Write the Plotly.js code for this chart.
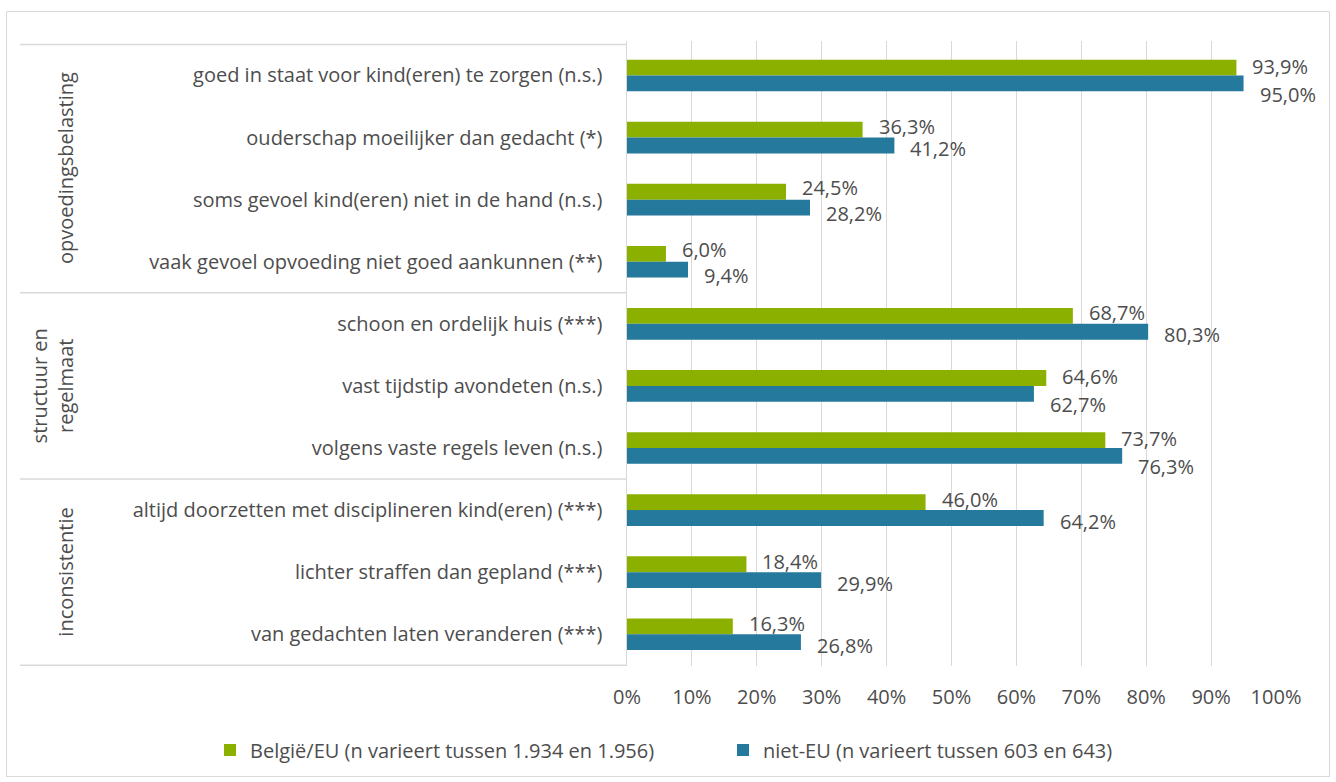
<!DOCTYPE html>
<html>
<head>
<meta charset="utf-8">
<script src="https://cdn.plot.ly/plotly-3.0.1.min.js"></script>
<style>
  html, body { margin: 0; padding: 0; background: #ffffff; }
  #chart { width: 1336px; height: 782px; }
</style>
</head>
<body>
<div id="chart"></div>
<script>
// ---- data ----
const categories = [
  "goed in staat voor kind(eren) te zorgen (n.s.)",
  "ouderschap moeilijker dan gedacht (*)",
  "soms gevoel kind(eren) niet in de hand (n.s.)",
  "vaak gevoel opvoeding niet goed aankunnen (**)",
  "schoon en ordelijk huis (***)",
  "vast tijdstip avondeten (n.s.)",
  "volgens vaste regels leven (n.s.)",
  "altijd doorzetten met disciplineren kind(eren) (***)",
  "lichter straffen dan gepland (***)",
  "van gedachten laten veranderen (***)"
];
const groupNames = ["opvoedingsbelasting", "structuur en<br>regelmaat", "inconsistentie"];
const groupSizes = [4, 3, 3];
const seriesNames = [
  "België/EU (n varieert tussen 1.934 en 1.956)",
  "niet-EU (n varieert tussen 603 en 643)"
];
const belgieEU = [93.9, 36.3, 24.5, 6.0, 68.7, 64.6, 73.7, 46.0, 18.4, 16.3];
const nietEU   = [95.0, 41.2, 28.2, 9.4, 80.3, 62.7, 76.3, 64.2, 29.9, 26.8];
const xTickVals = [0, 10, 20, 30, 40, 50, 60, 70, 80, 90, 100];
const xTickText = ["0%", "10%", "20%", "30%", "40%", "50%", "60%", "70%", "80%", "90%", "100%"];

// ---- style ----
const GREEN = "#8CB000";
const BLUE = "#24799C";
const TEXT = "#4D4D4D";
const GRID = "#D9D9D9";
const FONT = "'Open Sans', Lato, sans-serif";
const FS = 20;

const W = 1336, H = 782;
const M = { l: 627, r: 60, t: 41, b: 116, autoexpand: false };
const pw = W - M.l - M.r, ph = H - M.t - M.b;
const px2x = p => (p - M.l) / pw;
const py2y = p => (H - M.b - p) / ph;

const fmt = v => v.toFixed(1).replace(".", ",") + "%";

const traces = [
  {
    type: "bar", orientation: "h", name: seriesNames[0],
    y: categories, x: belgieEU,
    marker: { color: GREEN },
    hoverinfo: "skip"
  },
  {
    type: "bar", orientation: "h", name: seriesNames[1],
    y: categories, x: nietEU,
    marker: { color: BLUE },
    hoverinfo: "skip"
  }
];

const annotations = [];
// bar value labels (pushed apart when the two labels of a row would collide)
const barHalf = ph / categories.length * (1 - 0.49) / 4;
categories.forEach((c, i) => {
  const d = Math.abs(belgieEU[i] - nietEU[i]);
  let up = 3, down = 3;
  if (d < 3) { up = 1; down = 11; }
  else if (d < 4.5) { up = 4; down = 6; }
  annotations.push({
    x: belgieEU[i], y: c, xref: "x", yref: "y",
    text: fmt(belgieEU[i]), showarrow: false,
    xanchor: "left", yanchor: "middle", xshift: 14,
    yshift: barHalf + up,
    font: { family: FONT, size: FS, color: TEXT }
  });
  annotations.push({
    x: nietEU[i], y: c, xref: "x", yref: "y",
    text: fmt(nietEU[i]), showarrow: false,
    xanchor: "left", yanchor: "middle", xshift: 14,
    yshift: -barHalf - down,
    font: { family: FONT, size: FS, color: TEXT }
  });
});

// group labels and separators
const shapes = [];
let start = 0;
shapes.push({
  type: "line", xref: "paper", yref: "y",
  x0: px2x(20), x1: 0, y0: -0.5, y1: -0.5,
  line: { color: GRID, width: 1.5 }
});
groupNames.forEach((g, k) => {
  const end = start + groupSizes[k];
  annotations.push({
    xref: "paper", yref: "y",
    x: px2x(81), y: (start + end - 1) / 2,
    text: g, textangle: -90, showarrow: false,
    xanchor: "right", yanchor: "middle", align: "center",
    font: { family: FONT, size: FS, color: TEXT }
  });
  shapes.push({
    type: "line", xref: "paper", yref: "y",
    x0: px2x(20), x1: 0, y0: end - 0.5, y1: end - 0.5,
    line: { color: GRID, width: 1.5 }
  });
  start = end;
});
// outer chart border
shapes.push({
  type: "rect", xref: "paper", yref: "paper",
  x0: px2x(6.5), x1: px2x(1329.5), y0: py2y(776.5), y1: py2y(11.5),
  line: { color: GRID, width: 1 }, fillcolor: "rgba(0,0,0,0)"
});

const layout = {
  width: W, height: H,
  margin: M,
  paper_bgcolor: "#ffffff", plot_bgcolor: "#ffffff",
  font: { family: FONT, size: FS, color: TEXT },
  barmode: "group", bargap: 0.49, bargroupgap: 0,
  showlegend: true,
  legend: {
    orientation: "h",
    x: px2x(210), xanchor: "left",
    y: py2y(750), yanchor: "middle",
    font: { family: FONT, size: FS, color: TEXT },
    itemwidth: 30, tracegroupgap: 0, entrywidth: 468, entrywidthmode: "pixels",
    traceorder: "normal", itemclick: false, itemdoubleclick: false
  },
  xaxis: {
    range: [0, 100], tickvals: xTickVals, ticktext: xTickText,
    showgrid: true, gridcolor: GRID, gridwidth: 1,
    zeroline: false, showline: false, ticks: "",
    ticklabelstandoff: 17, fixedrange: true,
    tickfont: { family: FONT, size: FS, color: TEXT }
  },
  yaxis: {
    type: "category", autorange: "reversed",
    showgrid: false, zeroline: false,
    showline: true, linecolor: GRID, linewidth: 1.5,
    ticks: "", ticklabelstandoff: 19, fixedrange: true,
    tickfont: { family: FONT, size: FS, color: TEXT }
  },
  annotations: annotations,
  shapes: shapes
};

Plotly.newPlot("chart", traces, layout, { displayModeBar: false, staticPlot: true });
</script>
</body>
</html>
